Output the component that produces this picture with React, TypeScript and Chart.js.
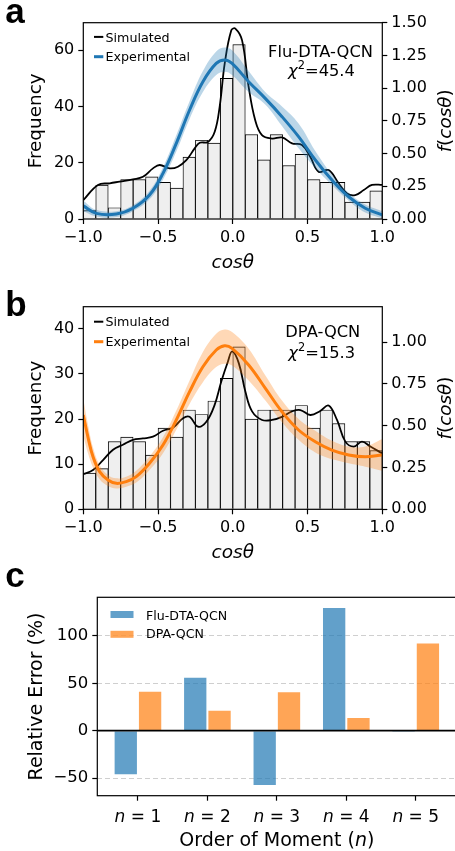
import React, { useEffect, useRef } from 'react';
import { Chart, registerables } from 'chart.js';

Chart.register(...registerables);

const FONT = "'DejaVu Sans', sans-serif";
const LETTER_FONT = "bold 35px 'Liberation Sans', Arial, sans-serif";
const MINUS = '\u2212';
Chart.defaults.font.family = FONT;

// ---------- shared axis data ----------
const binCenters = [-0.9583, -0.875, -0.7917, -0.7083, -0.625, -0.5417, -0.4583, -0.375, -0.2917, -0.2083, -0.125, -0.0417,
  0.0417, 0.125, 0.2083, 0.2917, 0.375, 0.4583, 0.5417, 0.625, 0.7083, 0.7917, 0.875, 0.9583];
const cosTicks = [-1, -0.5, 0, 0.5, 1];

// ---------- panel a (Flu-DTA-QCN) ----------
const histA = [3, 12, 4, 14, 14, 15, 13, 11, 22, 28, 27, 50, 62, 30, 21, 30, 19, 23, 14, 13, 13, 6, 6, 10];
const simAX = [-1.0, -0.902, -0.823, -0.757, -0.668, -0.601, -0.534, -0.489, -0.422, -0.367, -0.311, -0.255, -0.221, -0.166, -0.121, -0.088, -0.054, -0.01,
  0.017, 0.062, 0.106, 0.15, 0.195, 0.262, 0.329, 0.396, 0.463, 0.518, 0.574, 0.641, 0.708, 0.764, 0.819, 0.876, 0.931, 1.0];
const simAY = [6.7, 12.1, 12.7, 13.3, 14.1, 15.0, 18.0, 19.2, 18.0, 18.6, 20.9, 25.1, 27.1, 27.4, 31.0, 39.9, 55.3, 67.1,
  67.7, 63.5, 47.0, 35.1, 29.8, 28.6, 29.0, 26.9, 26.3, 22.1, 16.8, 17.4, 12.7, 9.1, 8.5, 10.3, 12.1, 12.1];
const expAX = [-1.0, -0.913, -0.779, -0.668, -0.557, -0.467, -0.378, -0.289, -0.2, -0.111, -0.054, -0.005, 0.106, 0.217, 0.329, 0.44, 0.552, 0.663, 0.775, 0.886, 1.0];
const expAY = [0.1, 0.043, 0.038, 0.082, 0.183, 0.349, 0.578, 0.833, 1.049, 1.189, 1.215, 1.189, 1.049, 0.922, 0.782, 0.629, 0.451, 0.298, 0.17, 0.082, 0.031];
const expAUp = [0.14, 0.07, 0.06, 0.105, 0.215, 0.395, 0.64, 0.9, 1.13, 1.28, 1.31, 1.29, 1.13, 0.97, 0.86, 0.73, 0.52, 0.34, 0.2, 0.11, 0.06];
const expALo = [0.06, 0.02, 0.015, 0.06, 0.15, 0.3, 0.515, 0.765, 0.97, 1.1, 1.125, 1.1, 0.97, 0.875, 0.71, 0.54, 0.39, 0.26, 0.14, 0.05, 0.005];
const freqTicksA = [0, 20, 40, 60];
const fTicksA = [0, 0.25, 0.5, 0.75, 1.0, 1.25, 1.5];

// ---------- panel b (DPA-QCN) ----------
const histB = [8, 9, 15, 16, 15, 12, 18, 16, 22, 21, 24, 29, 36, 20, 22, 22, 22, 23, 18, 22, 19, 15, 15, 13];
const simBX = [-1.0, -0.935, -0.868, -0.801, -0.735, -0.668, -0.601, -0.534, -0.467, -0.4, -0.333, -0.289, -0.233, -0.177, -0.122, -0.077, -0.033, -0.004,
  0.04, 0.084, 0.129, 0.196, 0.263, 0.329, 0.396, 0.452, 0.519, 0.585, 0.641, 0.697, 0.753, 0.809, 0.864, 0.92, 1.0];
const simBY = [7.8, 8.7, 10.9, 13.2, 14.3, 15.4, 15.7, 16.1, 17.4, 18.1, 20.2, 20.5, 18.3, 19.4, 23.1, 28.3, 32.7, 35.0,
  32.4, 26.1, 21.7, 19.8, 19.8, 20.5, 21.7, 22.0, 20.9, 21.8, 23.0, 19.8, 15.0, 13.9, 15.0, 13.9, 12.4];
const expBX = [-1.0, -0.967, -0.935, -0.891, -0.835, -0.779, -0.713, -0.646, -0.557, -0.467, -0.378, -0.289, -0.2, -0.111, -0.055, -0.005,
  0.106, 0.218, 0.329, 0.44, 0.552, 0.663, 0.775, 0.886, 1.0];
const expBY = [0.564, 0.424, 0.314, 0.225, 0.175, 0.155, 0.165, 0.195, 0.275, 0.384, 0.534, 0.703, 0.852, 0.952, 0.978, 0.962,
  0.863, 0.723, 0.583, 0.474, 0.404, 0.354, 0.325, 0.314, 0.325];
const expBUp = [0.66, 0.5, 0.37, 0.265, 0.205, 0.185, 0.195, 0.23, 0.315, 0.43, 0.59, 0.77, 0.94, 1.05, 1.075, 1.06,
  0.96, 0.8, 0.65, 0.54, 0.47, 0.41, 0.375, 0.375, 0.42];
const expBLo = [0.44, 0.33, 0.25, 0.18, 0.14, 0.125, 0.135, 0.16, 0.235, 0.335, 0.475, 0.63, 0.76, 0.85, 0.87, 0.86,
  0.77, 0.65, 0.52, 0.415, 0.34, 0.3, 0.275, 0.255, 0.23];
const freqTicksB = [0, 10, 20, 30, 40];
const fTicksB = [0, 0.25, 0.5, 0.75, 1.0];

// ---------- panel c (relative error of moments) ----------
const momentOrders = [1, 2, 3, 4, 5];
const errFlu = [-47, 57, -58.3, 130.5, -2];
const errDpa = [42, 22, 41.5, 14.5, 93];
const errTicks = [-50, 0, 50, 100];

// ---------- helpers ----------
const pts = (xs: number[], ys: number[]) => xs.map((x, i) => ({ x, y: ys[i] }));
const F = (size: number, style = '') => `${style} ${size}px ${FONT}`.trim();
const fmtCos = (v: number) => (v < 0 ? MINUS : '') + Math.abs(v).toFixed(1);
const fmtInt = (v: number) => (v < 0 ? MINUS : '') + String(Math.abs(Math.round(v)));

type Seg = { t: string; f: string; dy?: number };
function drawRich(ctx: CanvasRenderingContext2D, segs: Seg[], x: number, y: number, align: 'left' | 'center' = 'center', rot = 0) {
  ctx.save();
  ctx.translate(x, y);
  if (rot) ctx.rotate(rot);
  ctx.textBaseline = 'alphabetic';
  ctx.textAlign = 'left';
  ctx.fillStyle = '#000';
  let w = 0;
  segs.forEach((s) => { ctx.font = s.f; w += ctx.measureText(s.t).width; });
  let cx = align === 'center' ? -w / 2 : 0;
  segs.forEach((s) => { ctx.font = s.f; ctx.fillText(s.t, cx, s.dy || 0); cx += ctx.measureText(s.t).width; });
  ctx.restore();
}

const tickGrid = { drawOnChartArea: false, drawTicks: true, tickLength: 5, tickColor: '#000', tickWidth: 1.2, offset: false, tickBorderDash: [] };

interface HistPanel {
  hist: number[]; simX: number[]; simY: number[]; expX: number[]; expY: number[]; up: number[]; lo: number[];
  color: string; band: string; yMax: number; y1Max: number; yTicks: number[]; y1Ticks: number[];
  height: number; plotTop: number; plotBottom: number;
  letter: string; letterBase: number; legendY: [number, number];
  name: string; nameX: number; nameBase: number; chi: string; chiX: number; chiBase: number; xTitleBase: number;
}

const PLOT_L = 83.3;
const PLOT_R = 382.3;
const W = 455;

function histConfig(p: HistPanel): any {
  const tickFont = { family: FONT, size: 16 };
  const textPlugin = {
    id: 'histText',
    afterDatasetsDraw(chart: any) {
      const { ctx, chartArea: a } = chart;
      ctx.save();
      ctx.strokeStyle = '#000';
      ctx.lineWidth = 1.2;
      ctx.strokeRect(a.left, a.top, a.right - a.left, a.bottom - a.top);
      ctx.restore();
    },
    afterDraw(chart: any) {
      const { ctx, chartArea: a } = chart;
      const midY = (a.top + a.bottom) / 2;
      // panel letter
      ctx.save();
      ctx.font = LETTER_FONT;
      ctx.fillStyle = '#000';
      ctx.textBaseline = 'alphabetic';
      ctx.fillText(p.letter, 5.3, p.letterBase);
      ctx.restore();
      // legend
      const handles: [string, number][] = [['#000', 2], [p.color, 3]];
      const labels = ['Simulated', 'Experimental'];
      handles.forEach(([c, lw], i) => {
        ctx.save();
        ctx.strokeStyle = c;
        ctx.lineWidth = lw;
        ctx.beginPath();
        ctx.moveTo(94, p.legendY[i]);
        ctx.lineTo(103.3, p.legendY[i]);
        ctx.stroke();
        ctx.restore();
        drawRich(ctx, [{ t: labels[i], f: F(12.7) }], 105.5, p.legendY[i] + 4.6, 'left');
      });
      // annotation
      drawRich(ctx, [{ t: p.name, f: F(16.3) }], p.nameX, p.nameBase);
      drawRich(ctx, [
        { t: '\u03c7', f: F(16.3, 'italic') },
        { t: '2', f: F(11.4), dy: -7 },
        { t: '=' + p.chi, f: F(16.3) },
      ], p.chiX, p.chiBase);
      // axis titles
      drawRich(ctx, [{ t: 'cos\u03b8', f: F(18.5, 'italic') }], (a.left + a.right) / 2, p.xTitleBase);
      drawRich(ctx, [{ t: 'Frequency', f: F(18.4) }], 41, midY, 'center', -Math.PI / 2);
      drawRich(ctx, [
        { t: 'f', f: F(18.4, 'italic') },
        { t: '(', f: F(18.4) },
        { t: 'cos\u03b8', f: F(18.4, 'italic') },
        { t: ')', f: F(18.4) },
      ], 450.5, midY, 'center', -Math.PI / 2);
    },
  };
  return {
    type: 'bar',
    data: {
      datasets: [
        { type: 'line', label: 'Experimental', data: pts(p.expX, p.expY), borderColor: p.color, borderWidth: 3, pointRadius: 0, tension: 0.4, yAxisID: 'y1', fill: false },
        { type: 'line', label: 'upper', data: pts(p.expX, p.up), borderColor: 'rgba(0,0,0,0)', borderWidth: 0, pointRadius: 0, tension: 0.4, yAxisID: 'y1', fill: '+1', backgroundColor: p.band },
        { type: 'line', label: 'lower', data: pts(p.expX, p.lo), borderColor: 'rgba(0,0,0,0)', borderWidth: 0, pointRadius: 0, tension: 0.4, yAxisID: 'y1', fill: false },
        { type: 'line', label: 'Simulated', data: pts(p.simX, p.simY), borderColor: '#000', borderWidth: 1.8, pointRadius: 0, tension: 0.4, yAxisID: 'y', fill: false },
        { type: 'bar', label: 'hist', data: pts(binCenters, p.hist), backgroundColor: '#efefef', borderColor: '#000', borderWidth: 0.9, barPercentage: 1, categoryPercentage: 1, yAxisID: 'y', xAxisID: 'x' },
      ],
    },
    options: {
      animation: false,
      responsive: false,
      devicePixelRatio: 1,
      layout: { padding: { top: p.plotTop, left: 0, right: 0, bottom: 0 } },
      plugins: { legend: { display: false }, tooltip: { enabled: false } },
      scales: {
        x: {
          type: 'linear', min: -1, max: 1, offset: false,
          afterBuildTicks: (s: any) => { s.ticks = cosTicks.map((v) => ({ value: v })); },
          ticks: { font: tickFont, color: '#000', padding: 4, maxRotation: 0, autoSkip: false, callback: (v: number) => fmtCos(v) },
          grid: tickGrid, border: { display: false },
          afterFit: (s: any) => { s.height = p.height - p.plotBottom; },
        },
        y: {
          type: 'linear', position: 'left', min: 0, max: p.yMax,
          afterBuildTicks: (s: any) => { s.ticks = p.yTicks.map((v) => ({ value: v })); },
          ticks: { font: tickFont, color: '#000', padding: 4, callback: (v: number) => fmtInt(v) },
          grid: tickGrid, border: { display: false },
          afterFit: (s: any) => { s.width = PLOT_L; },
        },
        y1: {
          type: 'linear', position: 'right', min: 0, max: p.y1Max,
          afterBuildTicks: (s: any) => { s.ticks = p.y1Ticks.map((v) => ({ value: v })); },
          ticks: { font: tickFont, color: '#000', padding: 4, callback: (v: number) => v.toFixed(2) },
          grid: tickGrid, border: { display: false },
          afterFit: (s: any) => { s.width = W - PLOT_R; },
        },
      },
    },
    plugins: [textPlugin],
  };
}

const panelA: HistPanel = {
  hist: histA, simX: simAX, simY: simAY, expX: expAX, expY: expAY, up: expAUp, lo: expALo,
  color: '#1f77b4', band: 'rgba(31,119,180,0.3)', yMax: 69.8, y1Max: 1.5, yTicks: freqTicksA, y1Ticks: fTicksA,
  height: 280, plotTop: 22.7, plotBottom: 219,
  letter: 'a', letterBase: 23.3, legendY: [36.9, 56.7],
  name: 'Flu-DTA-QCN', nameX: 320.5, nameBase: 56.7, chi: '45.4', chiX: 321.5, chiBase: 75.5, xTitleBase: 267.7,
};

const panelB: HistPanel = {
  hist: histB, simX: simBX, simY: simBY, expX: expBX, expY: expBY, up: expBUp, lo: expBLo,
  color: '#ff7f0e', band: 'rgba(255,127,14,0.3)', yMax: 44.9, y1Max: 1.211, yTicks: freqTicksB, y1Ticks: fTicksB,
  height: 280, plotTop: 26.7, plotBottom: 229.3,
  letter: 'b', letterBase: 36, legendY: [41.7, 61.7],
  name: 'DPA-QCN', nameX: 322.8, nameBase: 57.3, chi: '15.3', chiX: 321.7, chiBase: 78.3, xTitleBase: 278.4,
};

// ---------- panel c config ----------
const C_W = 470;
const C_H = 291;
const C_TOP = 37.3;
const C_BOTTOM = 235.7;
const C_LEFT = 97.3;
const C_RIGHT = 456.4;

function errConfig(): any {
  const blue = 'rgba(31,119,180,0.7)';
  const orange = 'rgba(255,127,14,0.7)';
  const edge = 'rgba(255,255,255,0.45)';
  const textPlugin = {
    id: 'errText',
    afterDatasetsDraw(chart: any) {
      const { ctx, chartArea: a, scales } = chart;
      const y0 = scales.y.getPixelForValue(0);
      ctx.save();
      ctx.strokeStyle = '#000';
      ctx.lineWidth = 1.6;
      ctx.beginPath();
      ctx.moveTo(a.left, y0);
      ctx.lineTo(a.right, y0);
      ctx.stroke();
      ctx.lineWidth = 1.2;
      ctx.strokeRect(a.left, a.top, a.right - a.left, a.bottom - a.top);
      ctx.restore();
    },
    afterDraw(chart: any) {
      const { ctx, chartArea: a, scales } = chart;
      ctx.save();
      ctx.font = LETTER_FONT;
      ctx.fillStyle = '#000';
      ctx.fillText('c', 5.3, 26.7);
      ctx.restore();
      // legend
      const items: [string, string, number, number][] = [
        [blue, 'Flu-DTA-QCN', 50, 59.6],
        [orange, 'DPA-QCN', 69.8, 77.9],
      ];
      items.forEach(([c, label, py, tb]) => {
        ctx.save();
        ctx.fillStyle = edge;
        ctx.fillRect(109.5, py, 25, 9);
        ctx.fillStyle = c;
        ctx.fillRect(110.5, py + 1, 23, 7);
        ctx.restore();
        drawRich(ctx, [{ t: label, f: F(12.6) }], 146, tb, 'left');
      });
      // x tick labels
      momentOrders.forEach((n, i) => {
        const x = scales.x.getPixelForValue(i);
        drawRich(ctx, [
          { t: 'n', f: F(17, 'italic') },
          { t: ' = ', f: F(17) },
          { t: String(n), f: F(17) },
        ], x, 262);
      });
      // axis titles
      drawRich(ctx, [
        { t: 'Order of Moment (', f: F(19) },
        { t: 'n', f: F(19, 'italic') },
        { t: ')', f: F(19) },
      ], (a.left + a.right) / 2, 286);
      drawRich(ctx, [{ t: 'Relative Error (%)', f: F(19) }], 42, (a.top + a.bottom) / 2, 'center', -Math.PI / 2);
    },
  };
  return {
    type: 'bar',
    data: {
      datasets: [
        { label: 'Flu-DTA-QCN', data: momentOrders.map((_, i) => ({ x: i, y: errFlu[i] })), backgroundColor: blue, borderColor: edge, borderWidth: 1, barPercentage: 1, categoryPercentage: 0.7 },
        { label: 'DPA-QCN', data: momentOrders.map((_, i) => ({ x: i, y: errDpa[i] })), backgroundColor: orange, borderColor: edge, borderWidth: 1, barPercentage: 1, categoryPercentage: 0.7 },
      ],
    },
    options: {
      animation: false,
      responsive: false,
      devicePixelRatio: 1,
      layout: { padding: { top: C_TOP, left: 0, right: C_W - C_RIGHT, bottom: 0 } },
      plugins: { legend: { display: false }, tooltip: { enabled: false } },
      scales: {
        x: {
          type: 'linear', min: -0.585, max: 4.585, offset: false,
          afterBuildTicks: (s: any) => { s.ticks = momentOrders.map((_, i) => ({ value: i })); },
          ticks: { display: false },
          grid: tickGrid, border: { display: false },
          afterFit: (s: any) => { s.height = C_H - C_BOTTOM; },
        },
        y: {
          type: 'linear', position: 'left', min: -68.6, max: 140.7,
          afterBuildTicks: (s: any) => { s.ticks = errTicks.map((v) => ({ value: v })); },
          ticks: { font: { family: FONT, size: 16.5 }, color: '#000', padding: 4, callback: (v: number) => fmtInt(v) },
          grid: {
            drawOnChartArea: true, drawTicks: true, tickLength: 5, tickColor: '#000', tickWidth: 1.2, tickBorderDash: [],
            lineWidth: 1,
            color: (ctx: any) => (ctx.tick && ctx.tick.value === 0 ? 'rgba(0,0,0,0)' : '#cfcfcf'),
          },
          border: { display: false, dash: [5, 3] },
          afterFit: (s: any) => { s.width = C_LEFT; },
        },
      },
    },
    plugins: [textPlugin],
  };
}

function ChartCanvas({ make, width, height, top }: { make: () => any; width: number; height: number; top: number }) {
  const ref = useRef<HTMLCanvasElement>(null);
  useEffect(() => {
    const chart = new Chart(ref.current as HTMLCanvasElement, make());
    return () => chart.destroy();
  }, []);
  return (
    <canvas
      ref={ref}
      width={width}
      height={height}
      style={{ position: 'absolute', left: 0, top, width, height, display: 'block' }}
    />
  );
}

export default function App() {
  return (
    <div style={{ position: 'fixed', left: 0, top: 0, width: 455, height: 851, overflow: 'hidden', background: '#fff' }}>
      <ChartCanvas make={() => histConfig(panelA)} width={455} height={280} top={0} />
      <ChartCanvas make={() => histConfig(panelB)} width={455} height={280} top={280} />
      <ChartCanvas make={errConfig} width={C_W} height={C_H} top={560} />
    </div>
  );
}
